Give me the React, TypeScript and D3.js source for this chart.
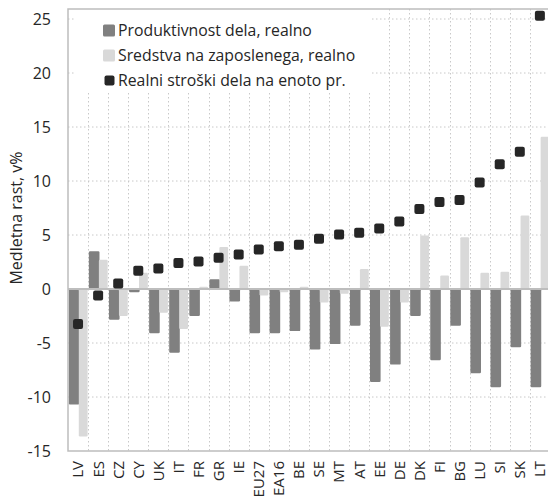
import React, { useRef, useEffect } from 'react';
import * as d3 from 'd3';

// country codes, in the order of the chart
const countries = ['LV', 'ES', 'CZ', 'CY', 'UK', 'IT', 'FR', 'GR', 'IE', 'EU27', 'EA16', 'BE',
    'SE', 'MT', 'AT', 'EE', 'DE', 'DK', 'FI', 'BG', 'LU', 'SI', 'SK', 'LT'];

// Produktivnost dela, realno
const productivity = [-10.7, 3.5, -2.85, -0.3, -4.1, -5.9, -2.5, 0.9, -1.15, -4.1, -4.1, -3.9,
    -5.6, -5.1, -3.4, -8.6, -7.0, -2.5, -6.6, -3.4, -7.8, -9.1, -5.4, -9.1];

// Sredstva na zaposlenega, realno
const compensation = [-13.65, 2.7, -2.5, 1.5, -2.2, -3.7, 0.2, 3.9, 2.15, -0.6, -0.3, 0.2,
    -1.25, -0.45, 1.85, -3.5, -1.25, 4.95, 1.25, 4.8, 1.5, 1.6, 6.8, 14.1];

// Realni stroški dela na enoto pr.
const ulc = [-3.25, -0.6, 0.5, 1.7, 1.9, 2.4, 2.55, 2.9, 3.2, 3.65, 3.95, 4.1,
    4.65, 5.05, 5.2, 5.6, 6.25, 7.4, 8.05, 8.25, 9.85, 11.55, 12.7, 25.3];

const yTicks = [-15, -10, -5, 0, 5, 10, 15, 20, 25];

const legendItems = [
    { label: 'Produktivnost dela, realno', color: '#808080', kind: 'bar' },
    { label: 'Sredstva na zaposlenega, realno', color: '#d9d9d9', kind: 'bar' },
    { label: 'Realni stroški dela na enoto pr.', color: '#262626', kind: 'marker' },
];

const FONT = '"Open Sans", "DejaVu Sans", sans-serif';

const Chart: React.FC = () => {
    const svgRef = useRef<SVGSVGElement | null>(null);

    useEffect(() => {
        if (!svgRef.current) return;
        const width = 548;
        const height = 500;
        const margin = { top: 9, left: 68 };
        const bandW = 20.08;
        const plotRight = margin.left + bandW * countries.length;

        const svg = d3.select(svgRef.current)
            .attr('width', width)
            .attr('height', height);
        svg.selectAll('*').remove();

        const x = d3.scaleBand()
            .domain(countries)
            .range([margin.left, plotRight]);

        const y = d3.scaleLinear()
            .domain([-15, 25])
            .range([451, 19]);

        const top = margin.top;
        const bottom = y(-15);

        // gridlines (dotted)
        svg.append('g')
            .selectAll('line')
            .data(yTicks.filter(d => d !== 0 && d !== -15))
            .enter().append('line')
            .attr('x1', margin.left).attr('x2', plotRight)
            .attr('y1', d => y(d)).attr('y2', d => y(d))
            .attr('stroke', '#c8c8c8')
            .attr('stroke-width', 1)
            .attr('stroke-dasharray', '1.5,2.5');

        svg.append('g')
            .selectAll('line')
            .data(countries.slice(1))
            .enter().append('line')
            .attr('x1', d => Math.round(x(d)!) + 0.5).attr('x2', d => Math.round(x(d)!) + 0.5)
            .attr('y1', top).attr('y2', bottom)
            .attr('stroke', '#c8c8c8')
            .attr('stroke-width', 1)
            .attr('stroke-dasharray', '1.5,2.5');

        // legend background box hides the grid under it
        svg.append('rect')
            .attr('x', 75).attr('y', top)
            .attr('width', 297).attr('height', 84)
            .attr('fill', 'white');

        // bars
        svg.append('g')
            .selectAll('rect')
            .data(productivity)
            .enter().append('rect')
            .attr('x', (_, i) => x(countries[i])! + 0.8)
            .attr('width', 10.6)
            .attr('y', d => y(Math.max(0, d)))
            .attr('height', d => Math.abs(y(d) - y(0)))
            .attr('rx', 1.2)
            .attr('fill', '#808080');

        svg.append('g')
            .selectAll('rect')
            .data(compensation)
            .enter().append('rect')
            .attr('x', (_, i) => x(countries[i])! + 10.8)
            .attr('width', 8.8)
            .attr('y', d => y(Math.max(0, d)))
            .attr('height', d => Math.abs(y(d) - y(0)))
            .attr('rx', 1.2)
            .attr('fill', '#d9d9d9');

        // frame and zero line
        svg.append('line')
            .attr('x1', margin.left).attr('x2', plotRight)
            .attr('y1', y(0)).attr('y2', y(0))
            .attr('stroke', '#bdbdbd').attr('stroke-width', 2);
        svg.append('path')
            .attr('d', `M${plotRight},${top}H${margin.left}V${bottom}H${plotRight}`)
            .attr('fill', 'none')
            .attr('stroke', '#bdbdbd')
            .attr('stroke-width', 1.5);

        // markers
        svg.append('g')
            .selectAll('rect')
            .data(ulc)
            .enter().append('rect')
            .attr('x', (_, i) => x(countries[i])! + x.bandwidth() / 2 - 5)
            .attr('y', d => y(d) - 5)
            .attr('width', 10).attr('height', 10)
            .attr('rx', 2)
            .attr('fill', '#262626');

        // y axis labels
        svg.append('g')
            .selectAll('text')
            .data(yTicks)
            .enter().append('text')
            .attr('x', 51)
            .attr('y', d => y(d))
            .attr('dy', '0.36em')
            .attr('text-anchor', 'end')
            .attr('font-family', FONT)
            .attr('font-size', 16)
            .attr('fill', '#262626')
            .text(d => d.toString());

        // x axis labels, rotated
        svg.append('g')
            .selectAll('text')
            .data(countries)
            .enter().append('text')
            .attr('transform', d => `translate(${x(d)! + x.bandwidth() / 2},${bottom + 10}) rotate(-90)`)
            .attr('dy', '0.36em')
            .attr('text-anchor', 'end')
            .attr('font-family', FONT)
            .attr('font-size', 15)
            .attr('fill', '#262626')
            .text(d => d);

        // y axis title
        svg.append('text')
            .attr('transform', `translate(22,218) rotate(-90)`)
            .attr('text-anchor', 'middle')
            .attr('font-family', FONT)
            .attr('font-size', 16)
            .attr('fill', '#262626')
            .text('Medletna rast, v%');

        // legend
        const lg = svg.append('g');
        legendItems.forEach((item, i) => {
            const cy = 30.5 + i * 25;
            if (item.kind === 'bar') {
                lg.append('rect')
                    .attr('x', 103).attr('y', cy - 6)
                    .attr('width', 12).attr('height', 12)
                    .attr('rx', 1.5)
                    .attr('fill', item.color);
            } else {
                lg.append('rect')
                    .attr('x', 104.5).attr('y', cy - 5)
                    .attr('width', 10).attr('height', 10)
                    .attr('rx', 2)
                    .attr('fill', item.color);
            }
            lg.append('text')
                .attr('x', 118)
                .attr('y', cy + 5.5)
                .attr('font-family', FONT)
                .attr('font-size', 15.8)
                .attr('fill', '#262626')
                .text(item.label);
        });
    }, []);

    return <svg ref={svgRef} style={{ position: 'absolute', left: 0, top: 0, display: 'block' }}></svg>;
};

export default function App() {
    return <Chart />;
}
